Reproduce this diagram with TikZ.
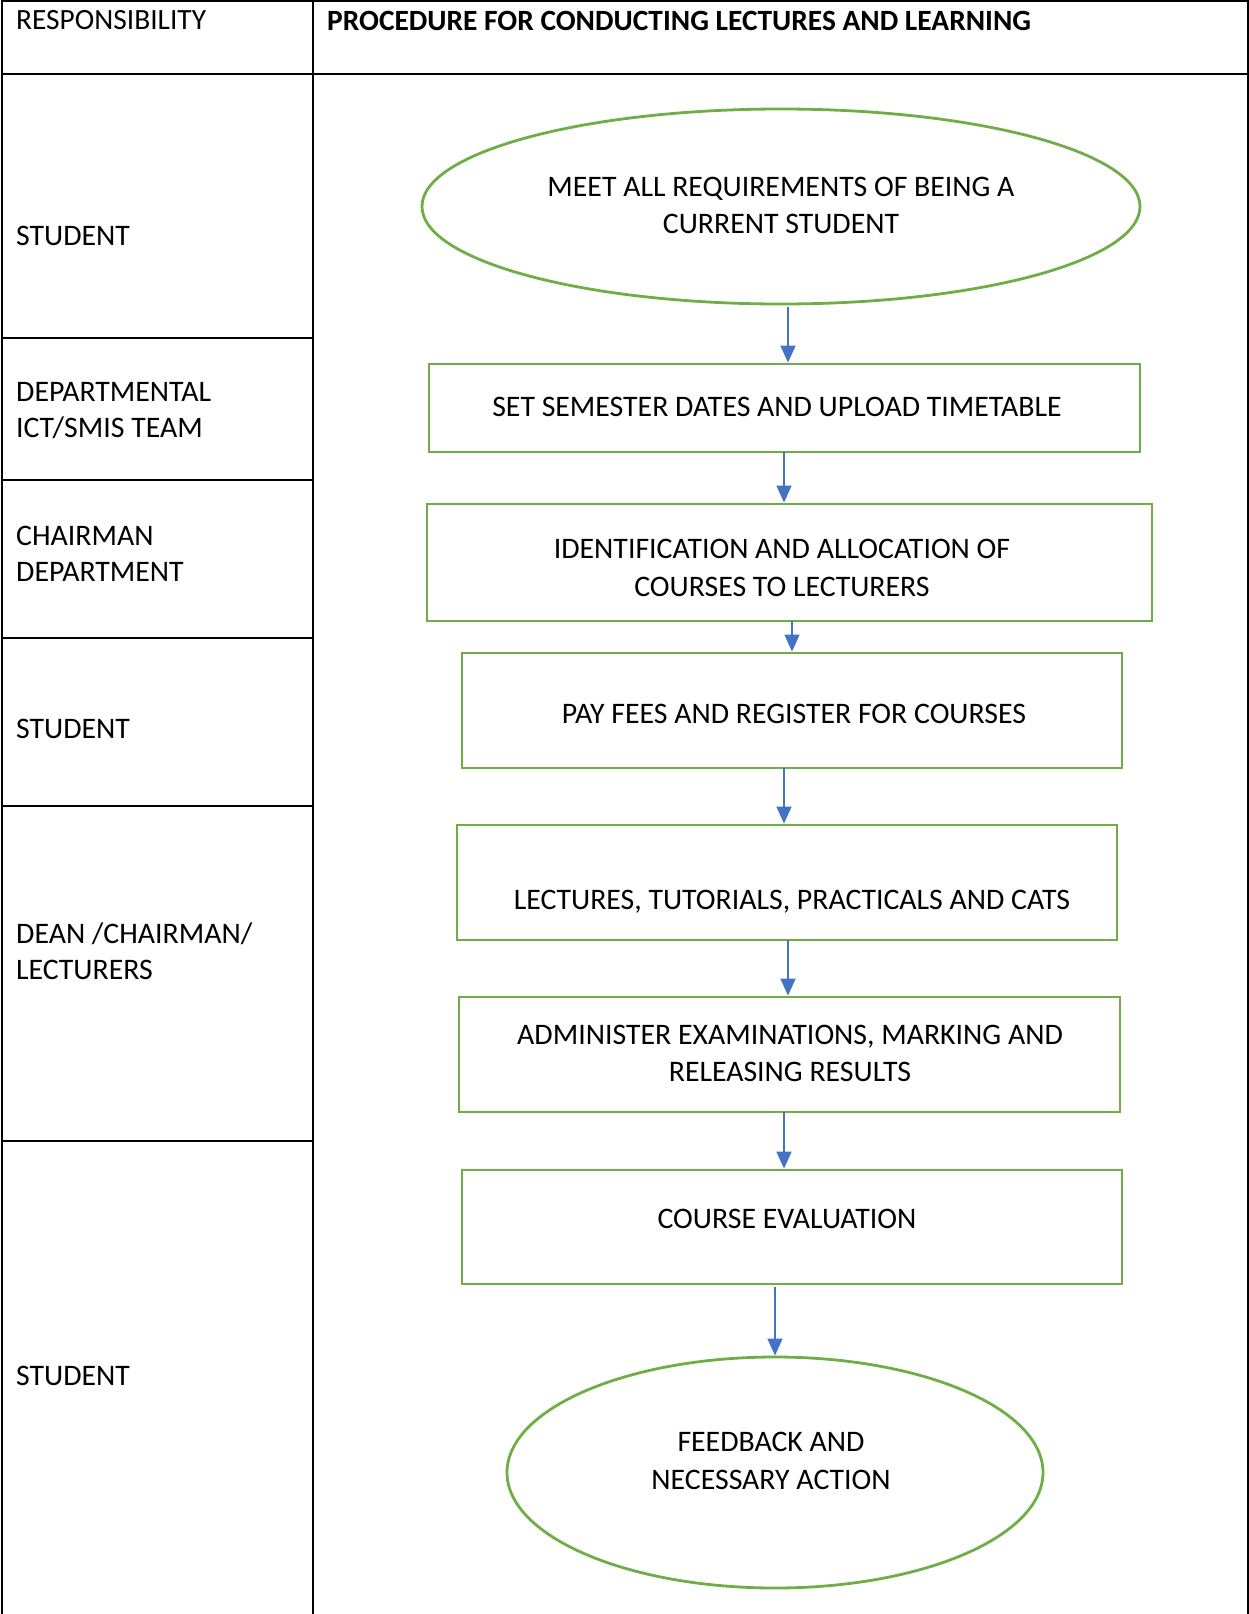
\documentclass[tikz,border=0pt]{standalone}
\usepackage{fontspec}
\setmainfont{Carlito}
\usetikzlibrary{arrows.meta,shapes.geometric}
\definecolor{flowgreen}{HTML}{70AD47}
\definecolor{flowblue}{HTML}{4472C4}
\begin{document}
\begin{tikzpicture}[x=1pt,y=-1pt,
  grid/.style={line width=2pt,black},
  box/.style={draw=flowgreen,line width=2.8pt,rectangle,inner sep=0pt},
  oval/.style={draw=flowgreen,line width=2.8pt,ellipse,inner sep=0pt},
  txt/.style={font=\fontsize{29.8}{37.5}\selectfont,align=center,inner sep=0pt},
  lbl/.style={font=\fontsize{29.8}{36}\selectfont,align=left,anchor=west,inner sep=0pt},
  flow/.style={flowblue,line width=1.5pt,-{Triangle[width=15pt,length=17pt]}}]

\useasboundingbox (0,0) rectangle (1249,1614);

% table grid
\draw[grid] (2,1614) -- (2,1) -- (1248,1) -- (1248,1614);
\draw[grid] (2,74) -- (1248,74);
\draw[grid] (313,1) -- (313,1614);
\foreach \yy in {338,480,638,806,1141}
  \draw[grid] (2,\yy) -- (313,\yy);

% header
\node[lbl,font=\fontsize{29.4}{34}\selectfont] (hresp) at (16,20.5) {RESPONSIBILITY};
\node[lbl,font=\fontsize{29.4}{34}\selectfont\bfseries] (hproc) at (327,20.5) {PROCEDURE FOR CONDUCTING LECTURES AND LEARNING};

% responsibility labels
\node[lbl] (r1) at (16,236) {STUDENT};
\node[lbl] (r2) at (16,411) {DEPARTMENTAL\\ICT/SMIS TEAM};
\node[lbl] (r3) at (16,554) {CHAIRMAN\\DEPARTMENT};
\node[lbl] (r4) at (16,729) {STUDENT};
\node[lbl] (r5) at (16,951) {DEAN /CHAIRMAN/\\LECTURERS};
\node[lbl] (r6) at (16,1376) {STUDENT};

% flow shapes
\node[oval,minimum width=718pt,minimum height=195pt] (s1) at (781,206.5) {};
\node[box,minimum width=711pt,minimum height=88pt] (s2) at (784.5,408) {};
\node[box,minimum width=725pt,minimum height=117pt] (s3) at (789.5,562.5) {};
\node[box,minimum width=660pt,minimum height=115pt] (s4) at (792,710.5) {};
\node[box,minimum width=660pt,minimum height=115pt] (s5) at (787,882.5) {};
\node[box,minimum width=661pt,minimum height=115pt] (s6) at (789.5,1054.5) {};
\node[box,minimum width=660pt,minimum height=114pt] (s7) at (792,1227) {};
\node[oval,minimum width=536pt,minimum height=231pt] (s8) at (775,1472.5) {};

% texts
\node[txt] (t1) at (781,205.5) {MEET ALL REQUIREMENTS OF BEING A\\CURRENT STUDENT};
\node[txt] (t2) at (777,407) {SET SEMESTER DATES AND UPLOAD TIMETABLE};
\node[txt] (t3) at (782,568) {IDENTIFICATION AND ALLOCATION OF\\COURSES TO LECTURERS};
\node[txt] (t4) at (794,714) {PAY FEES AND REGISTER FOR COURSES};
\node[txt] (t5) at (792,902) {LECTURES, TUTORIALS, PRACTICALS AND CATS};
\node[txt] (t6) at (790,1053.5) {ADMINISTER EXAMINATIONS, MARKING AND\\RELEASING RESULTS};
\node[txt] (t7) at (787,1219) {COURSE EVALUATION};
\node[txt] (t8) at (771,1461) {FEEDBACK AND\\NECESSARY ACTION};

% connectors
\coordinate (a1) at (788,307);
\draw[flow] (a1) -- (a1 |- s2.north);
\coordinate (a2) at (784,452);
\draw[flow] (a2) -- (a2 |- s3.north);
\coordinate (a3) at (792,621);
\draw[flow] (a3) -- (a3 |- s4.north);
\coordinate (a4) at (784,768);
\draw[flow] (a4) -- (a4 |- s5.north);
\coordinate (a5) at (788,940);
\draw[flow] (a5) -- (a5 |- s6.north);
\coordinate (a6) at (784,1112);
\draw[flow] (a6) -- (a6 |- s7.north);
\coordinate (a7) at (775,1287);
\draw[flow] (a7) -- (a7 |- s8.north);
\end{tikzpicture}
\end{document}
